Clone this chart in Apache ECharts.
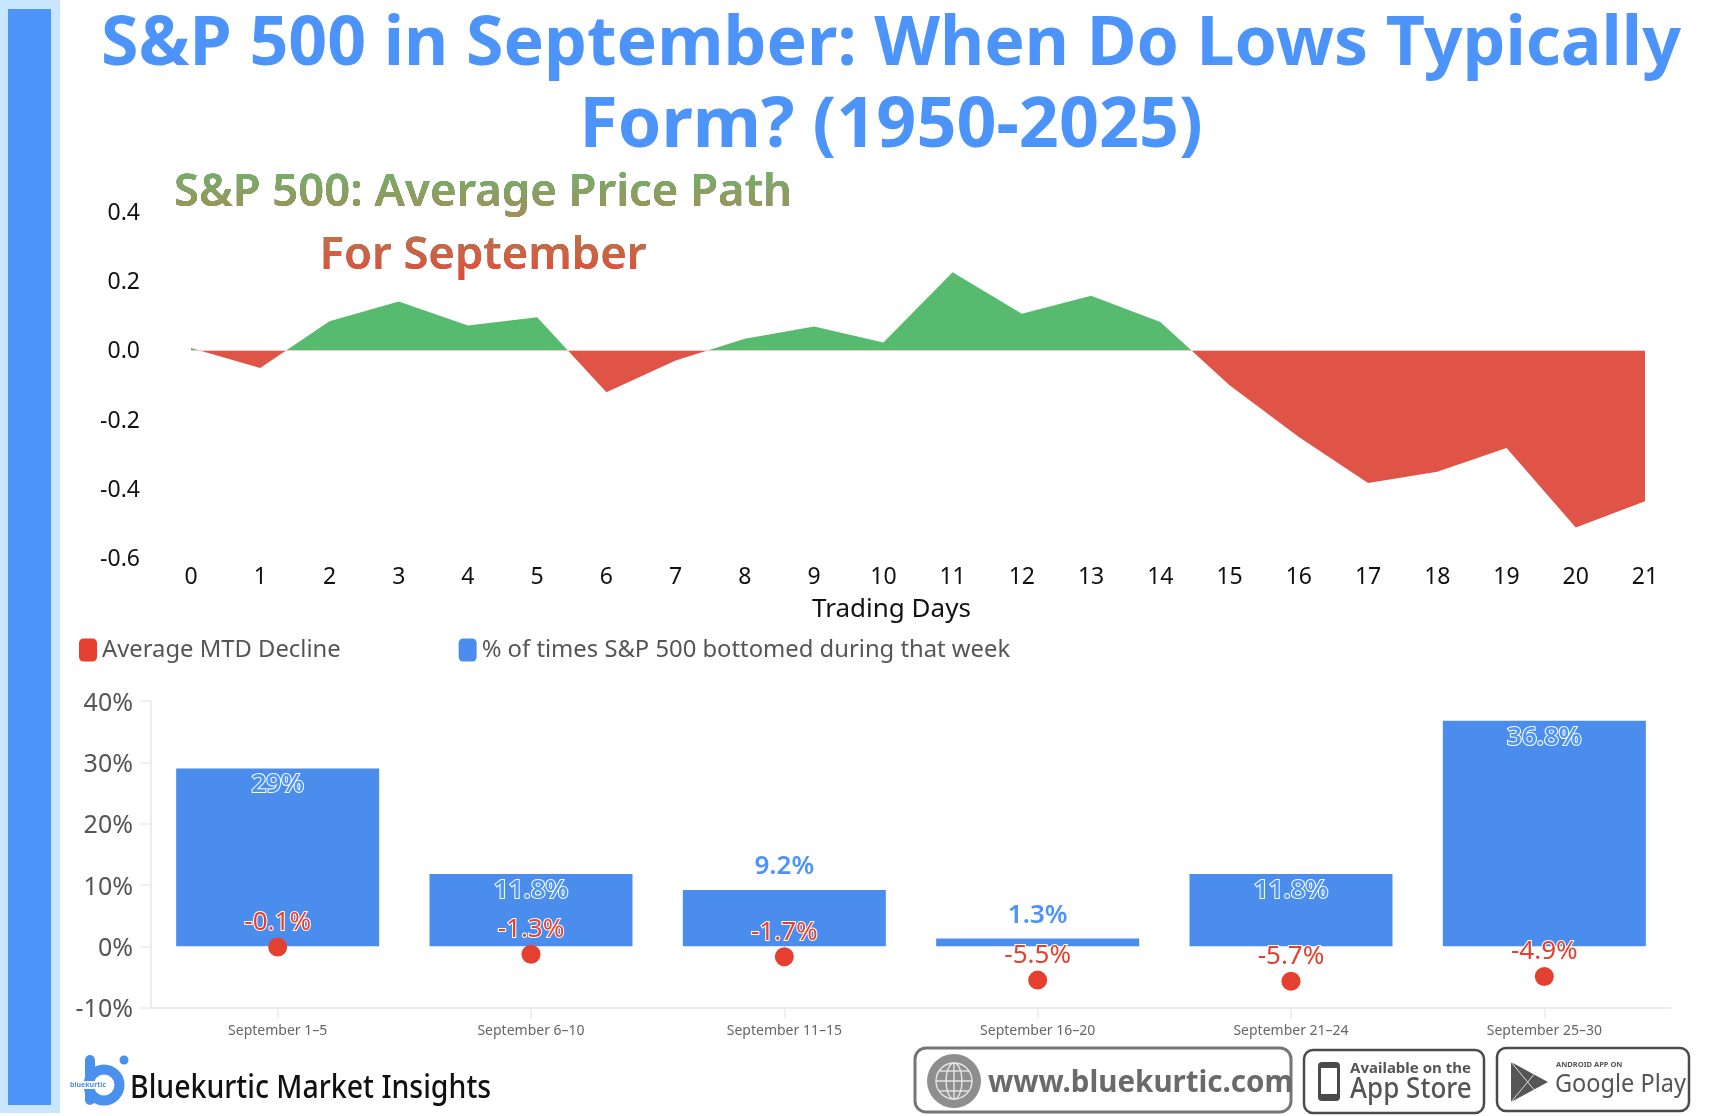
<!DOCTYPE html>
<html>
<head>
<meta charset="utf-8">
<style>html,body{margin:0;padding:0;background:#fff}#c{width:1716px;height:1116px}</style>
<script src="https://cdn.jsdelivr.net/npm/echarts@6/dist/echarts.min.js"></script>
</head>
<body>
<div id="c"></div>
<script>
const titleLine1 = 'S&P 500 in September: When Do Lows Typically';
const titleLine2 = 'Form? (1950-2025)';
const subtitleLine1 = 'S&P 500: Average Price Path';
const subtitleLine2 = 'For September';
const tradingDays = ['0','1','2','3','4','5','6','7','8','9','10','11','12','13','14','15','16','17','18','19','20','21'];
const avgPath = [0.007,-0.051,0.084,0.141,0.072,0.096,-0.121,-0.029,0.034,0.069,0.023,0.226,0.106,0.158,0.082,-0.101,-0.25,-0.383,-0.351,-0.282,-0.512,-0.436];
const weeks = ['September 1–5','September 6–10','September 11–15','September 16–20','September 21–24','September 25–30'];
const bottomedPct = [29,11.8,9.2,1.3,11.8,36.8];
const avgDecline = [-0.1,-1.3,-1.7,-5.5,-5.7,-4.9];
const nameBottomed = '% of times S&P 500 bottomed during that week';
const nameDecline = 'Average MTD Decline';

const BLUE='#4a8ded', TBLUE='#4d94fa', RED='#e43f2f', GREEN='#57bb6f', AREARED='#e05447';
const FONT='"Noto Sans"';

const chart=echarts.init(document.getElementById('c'),null,{renderer:'canvas',width:1716,height:1116});

const tx=(x,y,text,size,fill,weight,align,sx)=>({type:'text',x,y,scaleX:sx||1,silent:true,style:{text,fontFamily:FONT,fontSize:size,fontWeight:weight||'normal',fill,align:align||'left',verticalAlign:'middle'}});
const rr=(x,y,w,h,r,fill,stroke,lw)=>({type:'rect',silent:true,shape:{x,y,width:w,height:h,r},style:{fill:fill||'none',stroke:stroke||'none',lineWidth:lw||0}});
const ln=(a,b,c,d,col,lw)=>({type:'line',silent:true,shape:{x1:a,y1:b,x2:c,y2:d},style:{stroke:col,lineWidth:lw}});

const graphicEls=[
  rr(0,0,60,1113,0,'#c8e6ff'),
  rr(8,9,43,1096,0,'#4d94fa'),
  // subtitle: black text tinted by a 'lighten' gradient sheet gives the vertical colour fade of the reference
  tx(483,192.6,subtitleLine1,45.4,'#000000','600','center'),
  tx(483,255.6,subtitleLine2,45.4,'#000000','600','center'),
  {type:'rect',silent:true,shape:{x:165,y:160,width:640,height:62},
   style:{blend:'lighten',fill:new echarts.graphic.LinearGradient(0,0,0,1,[{offset:0,color:'#66b870'},{offset:1,color:'#a88a50'}])}},
  {type:'rect',silent:true,shape:{x:165,y:222,width:640,height:64},
   style:{blend:'lighten',fill:new echarts.graphic.LinearGradient(0,0,0,1,[{offset:0,color:'#b07f50'},{offset:1,color:'#ea4432'}])}},
  // brand logo
  rr(85,1055,10,50,5,'#4a90ee'),
  {type:'circle',silent:true,shape:{cx:104,cy:1085,r:15.5},style:{fill:'none',stroke:'#4a90ee',lineWidth:10}},
  {type:'circle',silent:true,shape:{cx:124,cy:1060,r:4.5},style:{fill:'#4a90ee'}},
  rr(69,1081,38,8,0,'#ffffff'),
  tx(88,1085,'bluekurtic',7,'#4a90ee','bold','center'),
  tx(130,1089,'Bluekurtic Market Insights',32,'#111','500','left',0.89),
  // website badge
  rr(915,1048,376,64,11,'#fff','#767676',3),
  {type:'circle',silent:true,shape:{cx:954,cy:1081,r:27},style:{fill:'#8e8e8e'}},
  {type:'circle',silent:true,shape:{cx:954,cy:1081,r:18},style:{fill:'none',stroke:'#e6e6e6',lineWidth:1.4}},
  {type:'ellipse',silent:true,shape:{cx:954,cy:1081,rx:8,ry:18},style:{fill:'none',stroke:'#e6e6e6',lineWidth:1.4}},
  ln(954,1063,954,1099,'#e6e6e6',1.4),
  ln(936,1081,972,1081,'#e6e6e6',1.4),
  ln(939,1071,969,1071,'#e6e6e6',1.4),
  ln(939,1091,969,1091,'#e6e6e6',1.4),
  tx(988,1084,'www.bluekurtic.com',29.5,'#6a6a6a','bold'),
  // App Store badge
  rr(1304,1050,180,63,9,'#fff','#4a4a4a',2.5),
  rr(1318,1062,22,39,4,'#4a4a4a'),
  rr(1321,1068,16,26,0,'#ffffff'),
  tx(1350,1069,'Available on the',15,'#555','bold'),
  tx(1350,1090,'App Store',28,'#555','500','left',0.93),
  // Google Play badge
  rr(1497,1048,192,63,9,'#fff','#4a4a4a',2.5),
  {type:'polygon',silent:true,shape:{points:[[1511,1062],[1548,1082],[1511,1102]]},style:{fill:'#555'}},
  ln(1511,1062,1536,1092,'#ddd',1),
  ln(1511,1102,1536,1072,'#ddd',1),
  tx(1556,1065,'ANDROID APP ON',7.5,'#555','bold'),
  tx(1555,1085,'Google Play',25,'#555','normal','left',0.94)
];

chart.setOption({
  animation:false,
  backgroundColor:'#ffffff',
  textStyle:{fontFamily:FONT},
  title:{text:'{a|'+titleLine1+'}\n{b|'+titleLine2+'}',left:886,top:0,textAlign:'center',
    textStyle:{rich:{
      a:{fontFamily:FONT,fontSize:68,lineHeight:81.5,fontWeight:'bold',color:TBLUE},
      b:{fontFamily:FONT,fontSize:70,lineHeight:81.5,fontWeight:'bold',color:TBLUE}}}},
  legend:{show:true,left:74,top:633,icon:'roundRect',itemWidth:18,itemHeight:23,itemGap:118,selectedMode:false,
    data:[nameDecline,nameBottomed],textStyle:{fontFamily:FONT,fontSize:23.8,color:'#555'}},
  visualMap:{show:false,type:'piecewise',seriesIndex:0,dimension:1,pieces:[{gt:0,lte:1,color:GREEN},{gt:-1,lte:0,color:AREARED}]},
  grid:[
    {left:191,top:212,width:1454,height:346,containLabel:false},
    {left:151,top:701,width:1520,height:306.7,containLabel:false}
  ],
  xAxis:[
    {type:'category',gridIndex:0,data:tradingDays,boundaryGap:false,position:'bottom',
     axisLine:{show:false,onZero:false},axisTick:{show:false},splitLine:{show:false},
     axisLabel:{interval:0,margin:8,color:'#111',fontFamily:FONT,fontSize:23},
     name:'Trading Days',nameLocation:'middle',nameGap:39,nameTextStyle:{fontFamily:FONT,fontSize:26,color:'#111',padding:[0,53,0,0]}},
    {type:'category',gridIndex:1,data:weeks,position:'bottom',
     axisLine:{show:true,onZero:false,lineStyle:{color:'#ececec',width:2}},
     axisTick:{show:true,alignWithLabel:true,length:11,lineStyle:{color:'#ececec',width:1.5}},
     splitLine:{show:false},
     axisLabel:{interval:0,margin:16,color:'#666',fontFamily:FONT,fontSize:14}}
  ],
  yAxis:[
    {type:'value',gridIndex:0,min:-0.6,max:0.4,interval:0.2,
     axisLine:{show:false},axisTick:{show:false},splitLine:{show:false},
     axisLabel:{margin:51,formatter:v=>'{v|'+v.toFixed(1)+'}',
       rich:{v:{color:'#111',fontFamily:FONT,fontSize:23,padding:[3,0,0,0]}}}},
    {type:'value',gridIndex:1,min:-10,max:40,interval:10,
     axisLine:{show:true,lineStyle:{color:'#ececec',width:2}},
     axisTick:{show:true,length:11,lineStyle:{color:'#ececec',width:1.5}},
     splitLine:{show:false},
     axisLabel:{margin:18,formatter:v=>'{v|'+v+'%}',
       rich:{v:{color:'#555',fontFamily:FONT,fontSize:25,padding:[5,0,0,0]}}}}
  ],
  series:[
    {type:'line',xAxisIndex:0,yAxisIndex:0,data:avgPath,showSymbol:false,symbol:'none',silent:true,
     lineStyle:{width:0},areaStyle:{opacity:1,origin:0},
     markLine:{silent:true,symbol:'none',animation:false,label:{show:false},lineStyle:{color:'#f6c9c2',width:1,type:'solid'},
       data:[[{coord:['0',0]},{coord:['21',0]}]]}},
    {type:'bar',name:nameBottomed,xAxisIndex:1,yAxisIndex:1,barWidth:203,z:2,silent:true,
     itemStyle:{color:BLUE},
     data:bottomedPct.map(v=>({value:v,label:{position:v<10?'top':'insideTop',distance:v<10?10:3.5}})),
     label:{show:true,formatter:p=>p.value+'%',color:TBLUE,fontFamily:FONT,fontSize:26,fontWeight:'600',textBorderColor:'#ffffff',textBorderWidth:2}},
    {type:'scatter',name:nameDecline,xAxisIndex:1,yAxisIndex:1,symbol:'circle',symbolSize:19,z:4,silent:true,
     itemStyle:{color:RED,opacity:1},
     data:avgDecline,
     label:{show:true,position:'top',distance:2,formatter:p=>p.value.toFixed(1)+'%',color:RED,fontFamily:FONT,fontSize:26,textBorderColor:'#ffffff',textBorderWidth:2}}
  ],
  graphic:graphicEls
});
</script>
</body>
</html>
